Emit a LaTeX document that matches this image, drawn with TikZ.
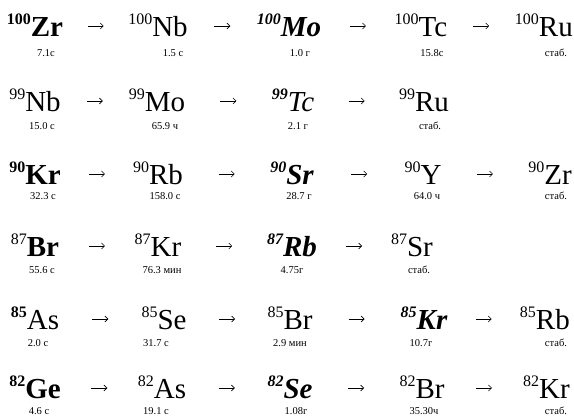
\documentclass[tikz,border=0pt]{standalone}
\usepackage{fontspec}
\setmainfont{Liberation Serif}
\usetikzlibrary{calc,arrows.meta}
\newcommand{\ms}[1]{\raisebox{12.5pt}{\fontsize{16}{16}\selectfont #1}}
\tikzset{
  iso/.style={inner sep=0pt,anchor=base,font=\fontsize{29}{29}\selectfont},
  half/.style={inner sep=0pt,anchor=base,font=\fontsize{10.5}{10.5}\selectfont},
  decay/.style={line width=0.6pt,-{Straight Barb[length=3pt,width=6pt]}}
}

\begin{document}
\begin{tikzpicture}[x=1pt,y=-1pt]
  \useasboundingbox (0,0) rectangle (574,417);
  % A = 100
  \node[iso] (zr100) at (35,37) {\bfseries\ms{100}Zr};
  \node[iso] (nb100) at (158,37) {\ms{100}Nb};
  \node[iso] (mo100) at (289,37) {\bfseries\itshape\ms{100}Mo};
  \node[iso] (tc100) at (421,37) {\ms{100}Tc};
  \node[iso,anchor=base east] (ru100) at (573,37) {\ms{100}Ru};
  \node[half] (t-zr100) at (46,57) {7.1с};
  \node[half] (t-nb100) at (173,57) {1.5 с};
  \node[half] (t-mo100) at (300,57) {1.0 г};
  \node[half] (t-tc100) at (432,57) {15.8с};
  \node[half] (t-ru100) at (556,57) {стаб.};
  % A = 99
  \node[iso] (nb99) at (35,112) {\ms{99}Nb};
  \node[iso] (mo99) at (157,112) {\ms{99}Mo};
  \node[iso] (tc99) at (293,112) {\itshape{\bfseries\ms{99}}Tc};
  \node[iso] (ru99) at (424,112) {\ms{99}Ru};
  \node[half] (t-nb99) at (42,130) {15.0 с};
  \node[half] (t-mo99) at (165,130) {65.9 ч};
  \node[half] (t-tc99) at (298,130) {2.1 г};
  \node[half] (t-ru99) at (430,130) {стаб.};
  % A = 90
  \node[iso] (kr90) at (35,185) {\bfseries\ms{90}Kr};
  \node[iso] (rb90) at (158,185) {\ms{90}Rb};
  \node[iso] (sr90) at (292,185) {\bfseries\itshape\ms{90}Sr};
  \node[iso] (y90) at (423,185) {\ms{90}Y};
  \node[iso,anchor=base east] (zr90) at (572,185) {\ms{90}Zr};
  \node[half] (t-kr90) at (43,200) {32.3 с};
  \node[half] (t-rb90) at (165,200) {158.0 с};
  \node[half] (t-sr90) at (299,200) {28.7 г};
  \node[half] (t-y90) at (427,200) {64.0 ч};
  \node[half] (t-zr90) at (556,200) {стаб.};
  % A = 87
  \node[iso] (br87) at (35,257) {\ms{87}{\bfseries Br}};
  \node[iso] (kr87) at (158,257) {\ms{87}Kr};
  \node[iso] (rb87) at (292,257) {\bfseries\itshape\ms{87}Rb};
  \node[iso] (sr87) at (412,257) {\ms{87}Sr};
  \node[half] (t-br87) at (42,274) {55.6 с};
  \node[half] (t-kr87) at (162,274) {76.3 мин};
  \node[half] (t-rb87) at (292,274) {4.75г};
  \node[half] (t-sr87) at (419,274) {стаб.};
  % A = 85
  \node[iso] (as85) at (35,330) {{\bfseries\ms{85}}As};
  \node[iso] (se85) at (164,330) {\ms{85}Se};
  \node[iso] (br85) at (290,330) {\ms{85}Br};
  \node[iso] (kr85) at (424,330) {\bfseries\itshape\ms{85}Kr};
  \node[iso,anchor=base east] (rb85) at (570,330) {\ms{85}Rb};
  \node[half] (t-as85) at (38,347) {2.0 с};
  \node[half] (t-se85) at (156,347) {31.7 с};
  \node[half] (t-br85) at (290,347) {2.9 мин};
  \node[half] (t-kr85) at (421,347) {10.7г};
  \node[half] (t-rb85) at (556,347) {стаб.};
  % A = 82
  \node[iso] (ge82) at (35,399) {\bfseries\ms{82}Ge};
  \node[iso] (as82) at (162,399) {\ms{82}As};
  \node[iso] (se82) at (290,399) {\bfseries\itshape\ms{82}Se};
  \node[iso] (br82) at (422,399) {\ms{82}Br};
  \node[iso,anchor=base east] (kr82) at (570,399) {\ms{82}Kr};
  \node[half] (t-ge82) at (39,414) {4.6 с};
  \node[half] (t-as82) at (156,414) {19.1 с};
  \node[half] (t-se82) at (296,414) {1.08г};
  \node[half] (t-br82) at (424,414) {35.30ч};
  \node[half] (t-kr82) at (556,414) {стаб.};
  % decay arrows
  \foreach \a/\b in {zr100/nb100, nb100/mo100, mo100/tc100, tc100/ru100,
                     nb99/mo99, mo99/tc99, tc99/ru99,
                     kr90/rb90, rb90/sr90, sr90/y90, y90/zr90,
                     br87/kr87, kr87/rb87, rb87/sr87,
                     as85/se85, se85/br85, br85/kr85, kr85/rb85,
                     ge82/as82, as82/se82, se82/br82, br82/kr82}
    \draw[decay] ($(\a.base east)!.5!(\b.base west)+(-8,-11)$) -- ++(16,0);
\end{tikzpicture}
\end{document}
